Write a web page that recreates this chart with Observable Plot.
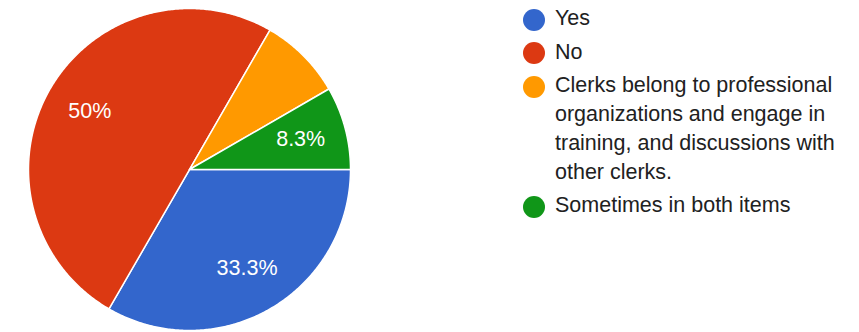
<!DOCTYPE html>
<html>
<head>
<meta charset="utf-8">
<script src="https://cdn.jsdelivr.net/npm/d3@7"></script>
<script src="https://cdn.jsdelivr.net/npm/@observablehq/plot@0.6"></script>
<style>
  body { margin: 0; background: #fff; font-family: "Liberation Sans", Arial, sans-serif; }
  #wrap { position: relative; width: 859px; height: 332px; overflow: hidden; }
  #chart { position: absolute; left: 0; top: 0; }
  #legend { position: absolute; left: 523px; top: 4px; width: 334px; color: #212121; font-size: 21.5px; }
  .item { display: flex; align-items: flex-start; margin-bottom: 5px; }
  .dot { width: 22px; height: 22px; border-radius: 50%; flex: none; margin-top: 4.5px; margin-right: 10px; }
  .txt { width: 292px; line-height: 28.7px; }
</style>
</head>
<body>
<div id="wrap">
  <div id="chart"></div>
  <div id="legend"></div>
</div>
<script>
const categories = ["Yes", "No", "Clerks belong to professional organizations and engage in training, and discussions with other clerks.", "Sometimes in both items"];
const counts = [4, 6, 1, 1];
const colors = ["#3366cc", "#dc3912", "#ff9900", "#109618"];
const labels = ["33.3%", "50%", "", "8.3%"];

const W = 380, H = 332, cx = 189, cy = 169, R = 161;
const total = d3.sum(counts);
const startDeg = 90;

let acc = 0;
const slices = categories.map((c, i) => {
  const a0 = startDeg + acc / total * 360;
  acc += counts[i];
  const a1 = startDeg + acc / total * 360;
  return {c, i, a0, a1};
});

const pt = (deg, r) => {
  const t = deg * Math.PI / 180;
  return {x: r * Math.sin(t), y: r * Math.cos(t)};
};

const marks = [];
for (const s of slices) {
  const pts = [{x: 0, y: 0}];
  const n = Math.max(2, Math.ceil(s.a1 - s.a0) * 2);
  for (let k = 0; k <= n; k++) pts.push(pt(s.a0 + (s.a1 - s.a0) * k / n, 1));
  pts.push({x: 0, y: 0});
  marks.push(Plot.line(pts, {x: "x", y: "y", fill: colors[s.i], stroke: "white", strokeWidth: 1.5, strokeLinejoin: "round"}));
}
const labelData = slices.filter(s => labels[s.i]).map(s => ({...pt((s.a0 + s.a1) / 2, 0.715), t: labels[s.i]}));
marks.push(Plot.text(labelData, {x: "x", y: "y", text: "t", fill: "white", fontSize: 21.5, dy: -1, fontFamily: "Liberation Sans, Arial, sans-serif"}));

const chart = Plot.plot({
  width: W, height: H,
  margin: 0,
  x: {domain: [-cx / R, (W - cx) / R], axis: null},
  y: {domain: [-(H - cy) / R, cy / R], axis: null},
  style: {background: "transparent"},
  marks
});
document.getElementById("chart").appendChild(chart);

const legend = document.getElementById("legend");
categories.forEach((c, i) => {
  const it = document.createElement("div");
  it.className = "item";
  const d = document.createElement("div");
  d.className = "dot";
  d.style.background = colors[i];
  const t = document.createElement("div");
  t.className = "txt";
  t.textContent = c;
  it.appendChild(d); it.appendChild(t);
  legend.appendChild(it);
});
</script>
</body>
</html>
